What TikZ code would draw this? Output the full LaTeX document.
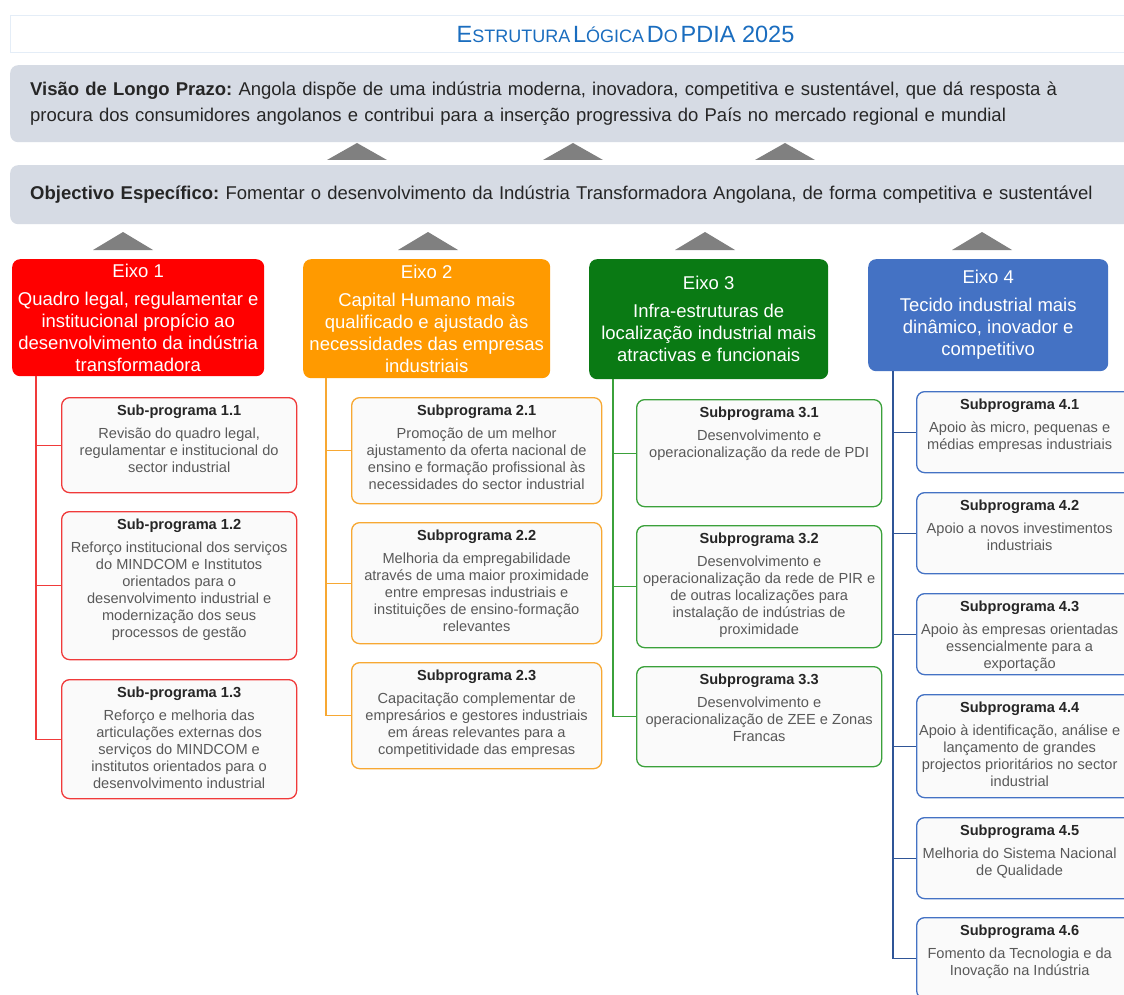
\documentclass[tikz,border=0pt]{standalone}
\usepackage{fontspec}
\setmainfont{Liberation Sans}
\usetikzlibrary{positioning}
\frenchspacing

\definecolor{eixoum}{HTML}{FF0000}
\definecolor{eixodois}{HTML}{FF9A00}
\definecolor{eixotres}{HTML}{0A7A14}
\definecolor{eixoquatro}{HTML}{4472C4}
\definecolor{linhaum}{HTML}{F03A3A}
\definecolor{linhadois}{HTML}{F7A833}
\definecolor{linhatres}{HTML}{3BA13B}
\definecolor{linhaquatro}{HTML}{4472C4}
\definecolor{tronco}{HTML}{2F5597}
\definecolor{faixa}{HTML}{D6DBE4}
\definecolor{titulo}{HTML}{1A6DBF}
\definecolor{cinzaseta}{HTML}{808080}

\newcommand{\versal}[2]{{\fontsize{23.5}{24}\selectfont #1}{\fontsize{18}{24}\selectfont #2}}
\newcommand{\sptitulo}[1]{{\color{black!85}\bfseries #1}\\[6pt]}

\tikzset{
  faixa/.style={fill=faixa, rounded corners=8pt, anchor=north west, inner xsep=15pt,
    align=left, text=black!85, font=\fontsize{18.5}{26}\selectfont},
  eixo/.style={fill=#1, rounded corners=8pt, anchor=north west, text=white,
    align=center, inner sep=0pt, font=\fontsize{18.5}{22}\selectfont},
  subbox/.style={draw=#1, line width=1.3pt, rounded corners=8pt, fill=black!2,
    anchor=north west},
  subtexto/.style={anchor=north, align=center, inner sep=0pt, yshift=-8pt,
    text=black!65, font=\fontsize{14.6}{17}\selectfont},
  subtextoq/.style={subtexto, xshift=-11pt},
  ramo/.style={draw=#1, line width=1.3pt},
  seta/.style={fill=cinzaseta},
}

\begin{document}
\begin{tikzpicture}[x=1pt,y=-1pt]
  \useasboundingbox (0,0) rectangle (1124,995);
  \fill[white] (0,0) rectangle (1124,995);
  \clip (0,0) rectangle (1124,995);

  % titulo, visao e objectivo
  \node[draw=titulo!12, line width=1pt, anchor=north west, minimum width=1230pt,
    minimum height=37pt, text=titulo] (titulo) at (10,15)
    {\versal{E}{STRUTURA} \versal{L}{ÓGICA} \versal{D}{O} {\fontsize{23.5}{24}\selectfont PDIA 2025}};
  \node[faixa, minimum width=1140pt, minimum height=77pt, text width=1100pt] (visao) at (10,65)
    {\textbf{Visão de Longo Prazo:} Angola dispõe de uma indústria moderna, inovadora, competitiva e sustentável, que dá resposta à\\
     procura dos consumidores angolanos e contribui para a inserção progressiva do País no mercado regional e mundial};
  \node[faixa, minimum width=1140pt, minimum height=59pt, text width=1100pt] (objectivo) at (10,165)
    {\textbf{Objectivo Específico:} Fomentar o desenvolvimento da Indústria Transformadora Angolana, de forma competitiva e sustentável};

  \foreach \x in {357,573,785}
    \fill[seta] (\x-30,160) -- (\x,143) -- (\x+30,160) -- cycle;
  \foreach \x in {123,428,705,982}
    \fill[seta] (\x-30,250) -- (\x,232) -- (\x+30,250) -- cycle;

  % eixos
  \node[eixo=eixoum, minimum width=252pt, minimum height=117pt] (e1) at (12,259)
    {Eixo 1\\[6pt] Quadro legal, regulamentar e\\ institucional propício ao\\ desenvolvimento da indústria\\ transformadora};
  \node[eixo=eixodois, minimum width=247pt, minimum height=119pt] (e2) at (303,259)
    {Eixo 2\\[6pt] Capital Humano mais\\ qualificado e ajustado às\\ necessidades das empresas\\ industriais};
  \node[eixo=eixotres, minimum width=239pt, minimum height=120pt] (e3) at (589,259)
    {Eixo 3\\[6pt] Infra-estruturas de\\ localização industrial mais\\ atractivas e funcionais};
  \node[eixo=eixoquatro, minimum width=240pt, minimum height=112pt] (e4) at (868,259)
    {Eixo 4\\[6pt] Tecido industrial mais\\ dinâmico, inovador e\\ competitivo};

  % eixo 1
  \node[subbox=linhaum, minimum width=235pt, minimum height=95pt] (s11) at (61,397) {};
  \node[subbox=linhaum, minimum width=235pt, minimum height=148pt] (s12) at (61,511) {};
  \node[subbox=linhaum, minimum width=235pt, minimum height=119pt] (s13) at (61,679) {};
  \node[subtexto] at (s11.north) {\sptitulo{Sub-programa 1.1}Revisão do quadro legal,\\ regulamentar e institucional do\\ sector industrial};
  \node[subtexto] at (s12.north) {\sptitulo{Sub-programa 1.2}Reforço institucional dos serviços\\ do MINDCOM e Institutos\\ orientados para o\\ desenvolvimento industrial e\\ modernização dos seus\\ processos de gestão};
  \node[subtexto] at (s13.north) {\sptitulo{Sub-programa 1.3}Reforço e melhoria das\\ articulações externas dos\\ serviços do MINDCOM e\\ institutos orientados para o\\ desenvolvimento industrial};
  \draw[ramo=linhaum] ([xshift=24pt]e1.south west) |- (s13.west);
  \foreach \s in {s11,s12}
    \draw[ramo=linhaum] ([xshift=24pt]e1.south west |- \s.west) -- (\s.west);

  % eixo 2
  \node[subbox=linhadois, minimum width=250pt, minimum height=106pt] (s21) at (351,397) {};
  \node[subbox=linhadois, minimum width=250pt, minimum height=121pt] (s22) at (351,522) {};
  \node[subbox=linhadois, minimum width=250pt, minimum height=106pt] (s23) at (351,662) {};
  \node[subtexto] at (s21.north) {\sptitulo{Subprograma 2.1}Promoção de um melhor\\ ajustamento da oferta nacional de\\ ensino e formação profissional às\\ necessidades do sector industrial};
  \node[subtexto] at (s22.north) {\sptitulo{Subprograma 2.2}Melhoria da empregabilidade\\ através de uma maior proximidade\\ entre empresas industriais e\\ instituições de ensino-formação\\ relevantes};
  \node[subtexto] at (s23.north) {\sptitulo{Subprograma 2.3}Capacitação complementar de\\ empresários e gestores industriais\\ em áreas relevantes para a\\ competitividade das empresas};
  \draw[ramo=linhadois] ([xshift=23pt]e2.south west) |- (s23.west);
  \foreach \s in {s21,s22}
    \draw[ramo=linhadois] ([xshift=23pt]e2.south west |- \s.west) -- (\s.west);

  % eixo 3
  \node[subbox=linhatres, minimum width=245pt, minimum height=107pt] (s31) at (636,399) {};
  \node[subbox=linhatres, minimum width=245pt, minimum height=122pt] (s32) at (636,525) {};
  \node[subbox=linhatres, minimum width=245pt, minimum height=100pt] (s33) at (636,666) {};
  \node[subtexto] at (s31.north) {\sptitulo{Subprograma 3.1}Desenvolvimento e\\ operacionalização da rede de PDI};
  \node[subtexto] at (s32.north) {\sptitulo{Subprograma 3.2}Desenvolvimento e\\ operacionalização da rede de PIR e\\ de outras localizações para\\ instalação de indústrias de\\ proximidade};
  \node[subtexto] at (s33.north) {\sptitulo{Subprograma 3.3}Desenvolvimento e\\ operacionalização de ZEE e Zonas\\ Francas};
  \draw[ramo=linhatres] ([xshift=24pt]e3.south west) |- (s33.west);
  \foreach \s in {s31,s32}
    \draw[ramo=linhatres] ([xshift=24pt]e3.south west |- \s.west) -- (\s.west);

  % eixo 4
  \node[subbox=linhaquatro, minimum width=228pt, minimum height=81pt] (s41) at (916,391) {};
  \node[subbox=linhaquatro, minimum width=228pt, minimum height=81pt] (s42) at (916,492) {};
  \node[subbox=linhaquatro, minimum width=228pt, minimum height=81pt] (s43) at (916,593) {};
  \node[subbox=linhaquatro, minimum width=228pt, minimum height=103pt] (s44) at (916,694) {};
  \node[subbox=linhaquatro, minimum width=228pt, minimum height=81pt] (s45) at (916,817) {};
  \node[subbox=linhaquatro, minimum width=228pt, minimum height=81pt] (s46) at (916,917) {};
  \node[subtextoq] at (s41.north) {\sptitulo{Subprograma 4.1}Apoio às micro, pequenas e\\ médias empresas industriais};
  \node[subtextoq] at (s42.north) {\sptitulo{Subprograma 4.2}Apoio a novos investimentos\\ industriais};
  \node[subtextoq] at (s43.north) {\sptitulo{Subprograma 4.3}Apoio às empresas orientadas\\ essencialmente para a\\ exportação};
  \node[subtextoq] at (s44.north) {\sptitulo{Subprograma 4.4}Apoio à identificação, análise e\\ lançamento de grandes\\ projectos prioritários no sector\\ industrial};
  \node[subtextoq] at (s45.north) {\sptitulo{Subprograma 4.5}Melhoria do Sistema Nacional\\ de Qualidade};
  \node[subtextoq] at (s46.north) {\sptitulo{Subprograma 4.6}Fomento da Tecnologia e da\\ Inovação na Indústria};
  \draw[ramo=tronco] ([xshift=25pt]e4.south west) |- (s46.west);
  \foreach \s in {s41,s42,s43,s44,s45}
    \draw[ramo=tronco] ([xshift=25pt]e4.south west |- \s.west) -- (\s.west);
\end{tikzpicture}
\end{document}
